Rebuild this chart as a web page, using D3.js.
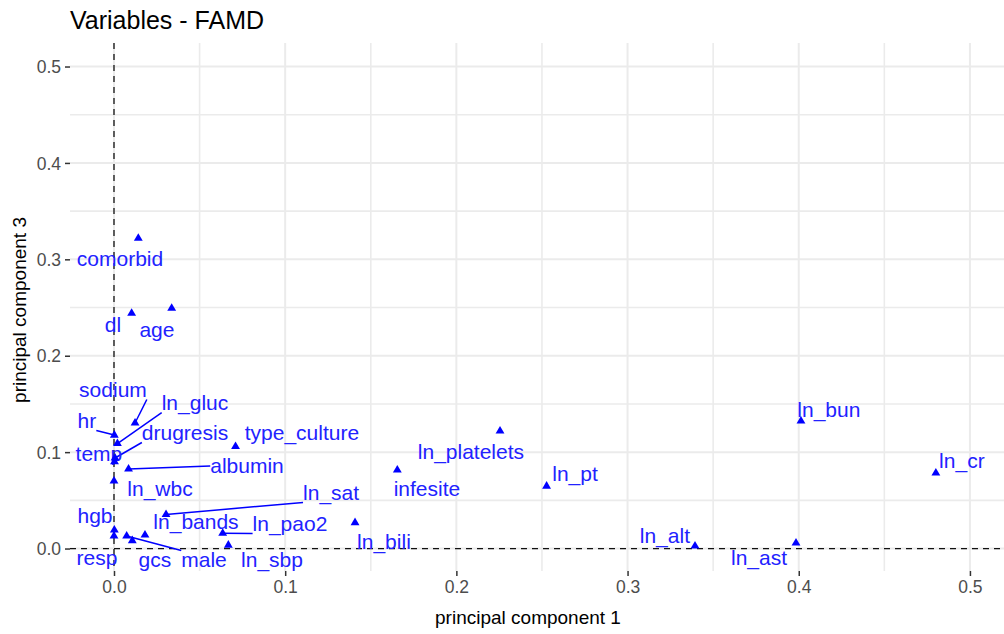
<!DOCTYPE html>
<html>
<head>
<meta charset="utf-8">
<script src="https://cdn.jsdelivr.net/npm/d3@7"></script>
<style>
  html, body { margin: 0; padding: 0; background: #fff; }
  svg { display: block; font-family: "Liberation Sans", Arial, sans-serif; }
</style>
</head>
<body>
<svg id="chart" width="1004" height="634"></svg>
<script>
// ---- data ----
const variables = ["comorbid","dl","age","sodium","ln_gluc","hr","drugresis","temp","albumin","ln_wbc",
  "type_culture","ln_platelets","infesite","ln_pt","ln_bun","ln_cr","ln_alt","ln_ast","ln_bili","ln_sbp",
  "ln_pao2","ln_sat","ln_bands","hgb","resp","male","gcs"];
const dim1 = [0.0142,0.0103,0.0337,0.0123,0.0020,0.0002,0.0006,0.0003,0.0085,0.0000,
  0.0710,0.2255,0.1655,0.2527,0.4013,0.4801,0.3394,0.3984,0.1408,0.0668,
  0.0635,0.0304,0.0181,0.0002,0.0000,0.0074,0.0107];
const dim3 = [0.3218,0.2440,0.2492,0.1302,0.1089,0.1177,0.0939,0.0902,0.0825,0.0700,
  0.1058,0.1219,0.0814,0.0648,0.1323,0.0783,0.0026,0.0057,0.0268,0.0036,
  0.0158,0.0353,0.0140,0.0192,0.0130,0.0130,0.0081];
// repelled label anchor positions (data units, label centre)
const labelDim1 = [0.0035,-0.0006,0.0251,-0.0006,0.0473,-0.0158,0.0415,-0.0088,0.0777,0.0269,
  0.1098,0.2085,0.1828,0.2693,0.4176,0.4953,0.3218,0.3768,0.1577,0.0923,
  0.1028,0.1268,0.0479,-0.0111,-0.0099,0.0526,0.0239];
const labelDim3 = [0.3003,0.2318,0.2267,0.1644,0.1509,0.1323,0.1198,0.0980,0.0856,0.0617,
  0.1198,0.1001,0.0617,0.0773,0.1437,0.0908,0.0130,-0.0099,0.0067,-0.0119,
  0.0254,0.0576,0.0275,0.0337,-0.0099,-0.0119,-0.0119];
const segmentLabels = ["sodium","ln_gluc","hr","drugresis","albumin","ln_sat","ln_pao2","male"];
const xTicks = [0.0,0.1,0.2,0.3,0.4,0.5];
const yTicks = [0.0,0.1,0.2,0.3,0.4,0.5];
const xMinor = [0.05,0.15,0.25,0.35,0.45];
const yMinor = [0.05,0.15,0.25,0.35,0.45];
const chartTitle = "Variables - FAMD";
const xTitle = "principal component 1";
const yTitle = "principal component 3";

// ---- layout ----
const panel = {left: 70, right: 1004, top: 43, bottom: 571};
const x = d3.scaleLinear().domain([-0.0257, 0.5199]).range([panel.left, panel.right]);
const y = d3.scaleLinear().domain([-0.0233, 0.5244]).range([panel.bottom, panel.top]);
const blue = "#0000ff";
const textBlue = "#2222ff";

const svg = d3.select("#chart");
svg.append("rect").attr("width",1004).attr("height",634).attr("fill","#fff");

const g = svg.append("g");
// grid
g.selectAll(".vminor").data(xMinor).enter().append("line")
  .attr("x1",d=>x(d)).attr("x2",d=>x(d)).attr("y1",panel.top).attr("y2",panel.bottom)
  .attr("stroke","#ebebeb").attr("stroke-width",1.6);
g.selectAll(".hminor").data(yMinor).enter().append("line")
  .attr("y1",d=>y(d)).attr("y2",d=>y(d)).attr("x1",panel.left).attr("x2",panel.right)
  .attr("stroke","#ebebeb").attr("stroke-width",1.6);
g.selectAll(".vmajor").data(xTicks).enter().append("line")
  .attr("x1",d=>x(d)).attr("x2",d=>x(d)).attr("y1",panel.top).attr("y2",panel.bottom)
  .attr("stroke","#ebebeb").attr("stroke-width",2);
g.selectAll(".hmajor").data(yTicks).enter().append("line")
  .attr("y1",d=>y(d)).attr("y2",d=>y(d)).attr("x1",panel.left).attr("x2",panel.right)
  .attr("stroke","#ebebeb").attr("stroke-width",2);

// axes
const xAxis = d3.axisBottom(x).tickValues(xTicks).tickFormat(d3.format(".1f")).tickSize(5).tickPadding(5);
const yAxis = d3.axisLeft(y).tickValues(yTicks).tickFormat(d3.format(".1f")).tickSize(5).tickPadding(4);
const gx = svg.append("g").attr("transform",`translate(0,${panel.bottom})`).call(xAxis);
const gy = svg.append("g").attr("transform",`translate(${panel.left},0)`).call(yAxis);
[gx, gy].forEach(a => {
  a.select(".domain").remove();
  a.selectAll(".tick line").attr("stroke","#333").attr("stroke-width",1.5);
  a.selectAll(".tick text").attr("fill","#4d4d4d").style("font-size","17.5px")
    .style("font-family","'Liberation Sans', Arial, sans-serif");
});
gy.selectAll(".tick text").attr("dy","0.35em");

// reference dashed lines
svg.append("line").attr("x1",x(0)).attr("x2",x(0)).attr("y1",panel.top).attr("y2",panel.bottom)
  .attr("stroke","#111").attr("stroke-width",1.3).attr("stroke-dasharray","6,5");
svg.append("line").attr("y1",y(0)).attr("y2",y(0)).attr("x1",panel.left).attr("x2",panel.right)
  .attr("stroke","#111").attr("stroke-width",1.3).attr("stroke-dasharray","6,5");

const data = variables.map((v,i)=>({name:v, px:x(dim1[i]), py:y(dim3[i]),
  lx:x(labelDim1[i]), ly:y(labelDim3[i])}));

const segG = svg.append("g");
const labG = svg.append("g");
const ptG = svg.append("g");

// labels (measure first)
const fs = 21;
const labels = labG.selectAll("text").data(data).enter().append("text")
  .attr("x",d=>d.lx).attr("y",d=>d.ly + fs*0.35)
  .attr("text-anchor","middle").attr("fill",textBlue).style("font-size",fs+"px")
  .text(d=>d.name);
labels.each(function(d){
  const b = this.getBBox();
  d.box = {x1:b.x, x2:b.x+b.width, y1:d.ly - fs*0.45, y2:d.ly + fs*0.45};
});

// segments
data.filter(d=>segmentLabels.includes(d.name)).forEach(d=>{
  const b = d.box, mx=(b.x1+b.x2)/2, my=(b.y1+b.y2)/2;
  const cands = [[b.x1,my],[b.x2,my],[mx,b.y1],[mx,b.y2],[b.x1,b.y1],[b.x1,b.y2],[b.x2,b.y1],[b.x2,b.y2]];
  let best=cands[0], bd=Infinity;
  cands.forEach(c=>{const dd=Math.hypot(c[0]-d.px,c[1]-d.py); if(dd<bd){bd=dd;best=c;}});
  segG.append("line").attr("x1",d.px).attr("y1",d.py).attr("x2",best[0]).attr("y2",best[1])
    .attr("stroke",blue).attr("stroke-width",1.5);
});

// points
ptG.selectAll("path").data(data).enter().append("path")
  .attr("d", d3.symbol().type(d3.symbolTriangle).size(34))
  .attr("transform",d=>`translate(${d.px},${d.py})`)
  .attr("fill",blue);

// titles
svg.append("text").attr("x",70).attr("y",29).attr("fill","#000").style("font-size","25px").text(chartTitle);
svg.append("text").attr("x",528).attr("y",624).attr("text-anchor","middle").attr("fill","#000")
  .style("font-size","19px").text(xTitle);
svg.append("text").attr("transform","translate(26,310) rotate(-90)").attr("text-anchor","middle")
  .attr("fill","#000").style("font-size","19px").text(yTitle);
</script>
</body>
</html>
